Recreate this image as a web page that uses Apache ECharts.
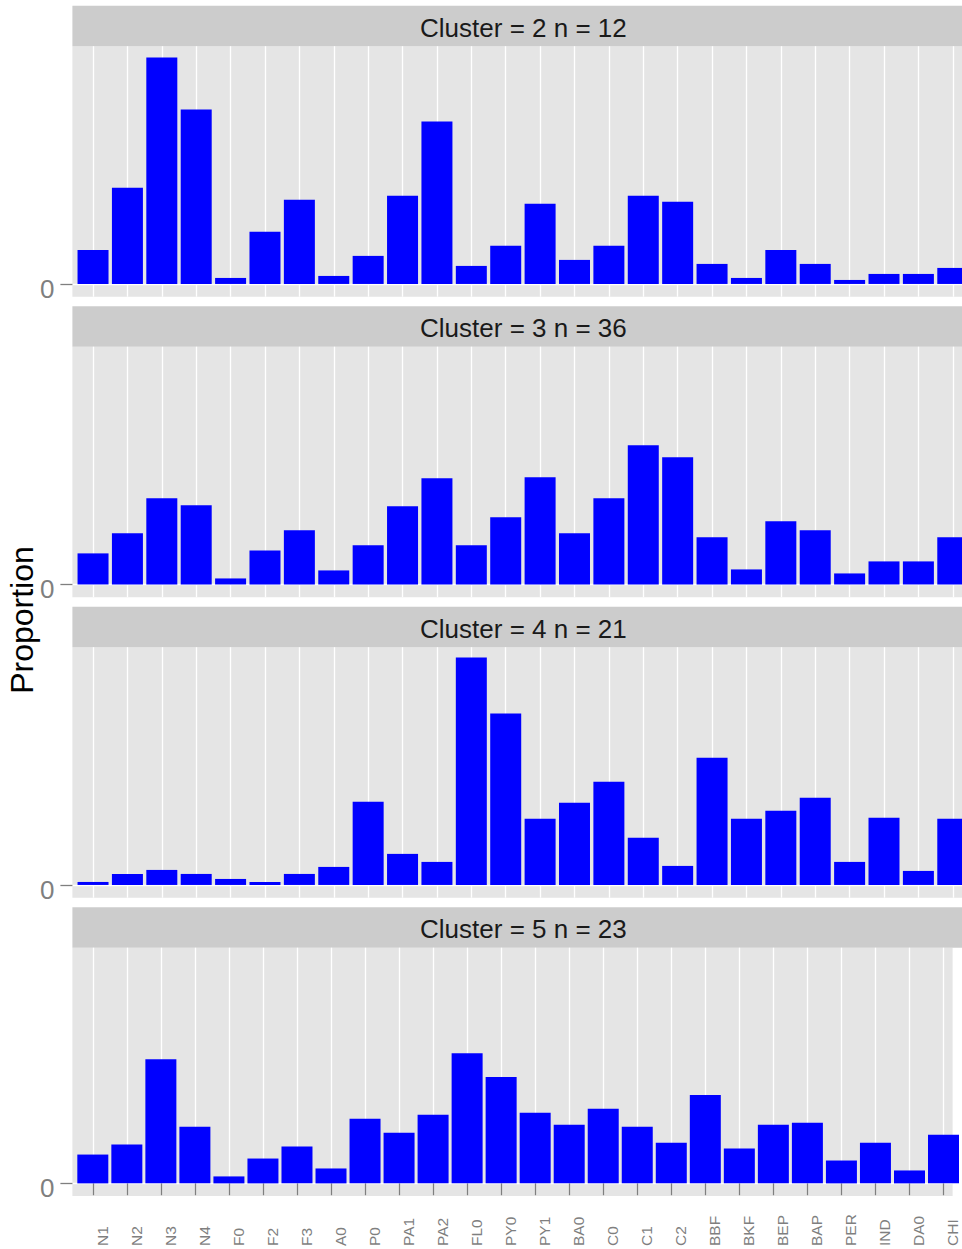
<!DOCTYPE html>
<html>
<head>
<meta charset="utf-8">
<script src="https://cdn.jsdelivr.net/npm/echarts@6/dist/echarts.min.js"></script>
<style>
html,body{margin:0;padding:0;background:#fff;}
#chart{width:962px;height:1249px;}
</style>
</head>
<body>
<div id="chart"></div>
<script>
// ---- data ----
const categories = ['N1','N2','N3','N4','F0','F2','F3','A0','P0','PA1','PA2','FL0','PY0','PY1','BA0','C0','C1','C2','BBF','BKF','BEP','BAP','PER','IND','DA0','CHI'];
const panelTitles = ['Cluster = 2 n = 12','Cluster = 3 n = 36','Cluster = 4 n = 21','Cluster = 5 n = 23'];
const cluster2 = [0.0238,0.0672,0.1582,0.1218,0.0042,0.0364,0.0588,0.0056,0.0196,0.0616,0.1134,0.0126,0.0266,0.0560,0.0168,0.0266,0.0616,0.0574,0.0140,0.0042,0.0238,0.0140,0.0028,0.0070,0.0070,0.0112];
const cluster3 = [0.0217,0.0357,0.0602,0.0553,0.0042,0.0238,0.0378,0.0098,0.0273,0.0546,0.0742,0.0273,0.0469,0.0749,0.0357,0.0602,0.0973,0.0889,0.0329,0.0105,0.0441,0.0378,0.0077,0.0161,0.0161,0.0329];
const cluster4 = [0.0021,0.0077,0.0105,0.0077,0.0042,0.0021,0.0077,0.0126,0.0581,0.0217,0.0161,0.1589,0.1197,0.0462,0.0574,0.0721,0.0329,0.0133,0.0889,0.0462,0.0518,0.0609,0.0161,0.0469,0.0098,0.0462];
const cluster5 = [0.0203,0.0273,0.0875,0.0399,0.0049,0.0175,0.0259,0.0105,0.0455,0.0357,0.0483,0.0917,0.0749,0.0497,0.0413,0.0525,0.0399,0.0287,0.0623,0.0245,0.0413,0.0427,0.0161,0.0287,0.0091,0.0343];
const yTickValues = [0];
const yTickLabels = ['0'];
const yTitle = 'Proportion';

// ---- layout ----
const panels = [cluster2, cluster3, cluster4, cluster5];
const FONT = "'Liberation Sans', Arial, Helvetica, sans-serif";
const W = 962;
const plotLeft = 72.4;
const unitPx = 34.39;                       // px per category step (ggplot-like spacing)
const xMin = 0.4;
const xMax = xMin + (W - plotLeft) / unitPx; // panel runs past the right edge of the picture
const plotTop0 = 46.2, panelStep = 300.5, plotHeight = 250.5, stripH = 40.5;
const xs = categories.map((c, i) => i + 1);
const allVals = [].concat(...panels);
const M = Math.max(...allVals);
const yMin = -0.056 * M, yMax = 1.045 * M;

const grids = [], xAxes = [], yAxes = [], series = [], graphics = [];
panels.forEach((vals, k) => {
  const top = plotTop0 + panelStep * k;
  const isBottom = k === panels.length - 1;
  grids.push({left: plotLeft, top: top, right: 0, height: plotHeight,
    show: true, backgroundColor: '#E5E5E5', borderWidth: 0, containLabel: false});
  xAxes.push({
    type: 'value', gridIndex: k, min: xMin, max: xMax,
    axisLine: {show: false},
    axisTick: {show: isBottom, customValues: xs, length: 12, lineStyle: {color: '#7F7F7F', width: 1.3}},
    axisLabel: {show: isBottom, customValues: xs, interval: 0, hideOverlap: false,
      formatter: v => categories[Math.round(v) - 1] || '',
      rotate: 90, align: 'left', verticalAlign: 'top', lineHeight: 18.5,
      margin: 50, fontSize: 15.5, color: '#7F7F7F', fontFamily: FONT},
    splitLine: {show: true, lineStyle: {color: '#FFFFFF', width: 1.3}}
  });
  yAxes.push({
    type: 'value', gridIndex: k, min: yMin, max: yMax,
    axisLine: {show: false},
    axisTick: {show: true, customValues: yTickValues, length: 12, lineStyle: {color: '#7F7F7F', width: 1.3}},
    axisLabel: {show: true, customValues: yTickValues,
      formatter: v => yTickLabels[yTickValues.indexOf(v)] ?? '',
      fontSize: 26, color: '#7F7F7F', fontFamily: FONT, margin: 18,
      verticalAlign: 'top', lineHeight: 10},
    splitLine: {show: true, lineStyle: {color: '#FFFFFF', width: 1.3}}
  });
  series.push({
    type: 'bar', xAxisIndex: k, yAxisIndex: k,
    data: vals.map((v, i) => [xs[i], v]),
    barWidth: 31, itemStyle: {color: '#0000FF'}, silent: true
  });
  const stripTop = top - stripH;
  graphics.push({type: 'rect', shape: {x: plotLeft, y: stripTop, width: W - plotLeft + 20, height: stripH},
    style: {fill: '#CCCCCC'}, silent: true});
  graphics.push({type: 'text', x: plotLeft + (xMin + 26.6 - 2 * xMin) * unitPx / 2 + 0.5, y: stripTop + stripH / 2 + 2,
    style: {text: panelTitles[k], font: '26px ' + FONT, fill: '#1A1A1A', textAlign: 'center', textVerticalAlign: 'middle'},
    silent: true});
});
graphics.push({type: 'text', x: 22, y: 620, rotation: Math.PI / 2,
  style: {text: yTitle, font: '32px ' + FONT, fill: '#000000', textAlign: 'center', textVerticalAlign: 'middle'},
  silent: true});

const chart = echarts.init(document.getElementById('chart'), null, {renderer: 'svg'});
chart.setOption({
  animation: false,
  backgroundColor: '#FFFFFF',
  textStyle: {fontFamily: FONT},
  grid: grids, xAxis: xAxes, yAxis: yAxes, series: series,
  graphic: graphics
});
</script>
</body>
</html>
